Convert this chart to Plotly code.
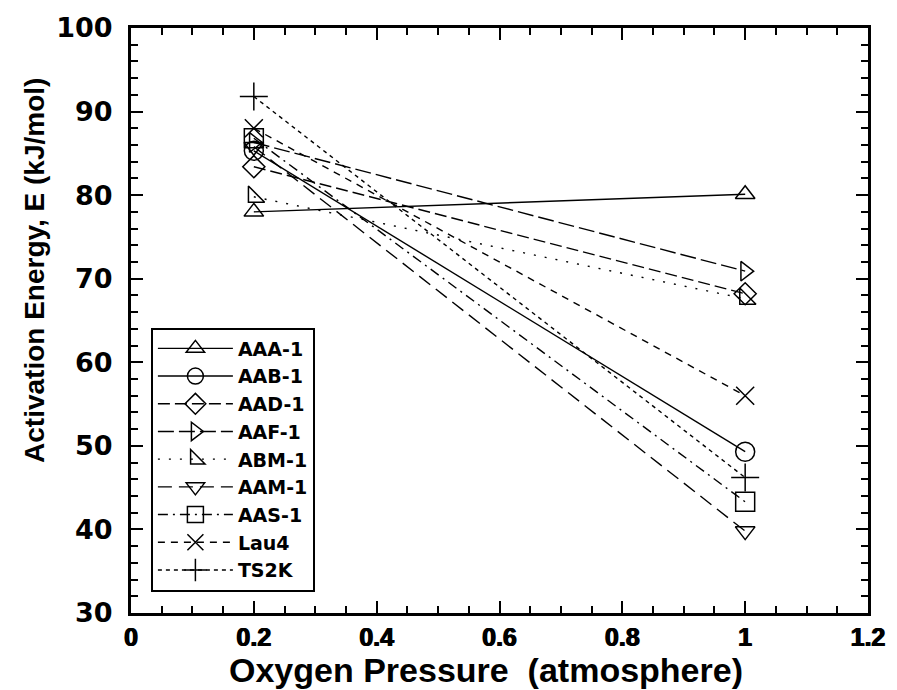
import plotly.graph_objects as go

# Oxygen partial pressure (atm) at which each sample was measured
pressure = [0.2, 1.0]

# Activation energies (kJ/mol) for each sample at 0.2 atm and 1 atm
series_names = ["AAA-1", "AAB-1", "AAD-1", "AAF-1", "ABM-1", "AAM-1", "AAS-1", "Lau4", "TS2K"]
aaa_1 = [78.0, 80.1]
aab_1 = [85.3, 49.3]
aad_1 = [83.4, 68.2]
aaf_1 = [86.3, 70.9]
abm_1 = [79.8, 67.6]
aam_1 = [85.8, 39.8]
aas_1 = [86.8, 43.3]
lau4 = [88.0, 56.0]
ts2k = [91.8, 46.2]

x_ticks = [0, 0.2, 0.4, 0.6, 0.8, 1, 1.2]
x_tick_text = ["0", "0.2", "0.4", "0.6", "0.8", "1", "1.2"]
y_ticks = [30, 40, 50, 60, 70, 80, 90, 100]

values = [aaa_1, aab_1, aad_1, aaf_1, abm_1, aam_1, aas_1, lau4, ts2k]
symbols = ["triangle-up-open", "circle-open", "diamond-open", "triangle-right-open",
           "triangle-sw-open", "triangle-down-open", "square-open", "x-thin-open",
           "cross-thin-open"]
dashes = ["solid", "solid", "12px,5px", "16px,5px", "2px,9px",
          "14px,7px", "10px,5px,2px,5px", "7px,6px", "4px,4px"]
sizes = [17, 19, 17, 17, 18, 17, 19, 18, 20]

fig = go.Figure()
for name, vals, sym, dash, size in zip(series_names, values, symbols, dashes, sizes):
    fig.add_trace(go.Scatter(
        x=pressure, y=vals, name=name, mode="lines+markers",
        line=dict(color="black", width=1.4, dash=dash),
        marker=dict(symbol=sym, size=size, color="black",
                    line=dict(color="black", width=1.5)),
    ))

axis_common = dict(
    showline=True, linecolor="black", linewidth=3, mirror="allticks",
    ticks="inside", ticklen=12, tickwidth=2, tickcolor="black",
    showgrid=False, zeroline=False,
)

fig.update_xaxes(
    range=[0, 1.2], tickvals=x_ticks, ticktext=x_tick_text,
    tickfont=dict(family="Liberation Sans", size=25, color="black", weight="bold",
                  shadow="0.6px 0 0 black, -0.6px 0 0 black"),
    minor=dict(dtick=0.05, ticks="inside", ticklen=7, tickwidth=2, tickcolor="black"),
    ticklabelstandoff=0,
    **axis_common,
)
fig.update_yaxes(
    range=[30, 100], tickvals=y_ticks,
    tickfont=dict(family="DejaVu Sans", size=27, color="black", weight="bold"),
    minor=dict(dtick=2, ticks="inside", ticklen=7, tickwidth=2, tickcolor="black"),
    ticklabelstandoff=10,
    **axis_common,
)

fig.add_annotation(text="Oxygen Pressure&nbsp;&nbsp;(atmosphere)", xref="paper", yref="paper",
                   x=0.482, y=-0.097, xanchor="center", yanchor="middle",
                   showarrow=False,
                   font=dict(family="Liberation Sans", size=34, color="black", weight="bold"))
fig.add_annotation(text="Activation Energy, E (kJ/mol)", xref="paper", yref="paper",
                   x=-0.13, y=0.585, xanchor="center", yanchor="middle",
                   textangle=-90, showarrow=False,
                   font=dict(family="Liberation Sans", size=28, color="black", weight="bold"))

fig.update_layout(
    width=897, height=690,
    margin=dict(l=131, r=21, t=18, b=77),
    plot_bgcolor="white", paper_bgcolor="white",
    showlegend=True,
    legend=dict(
        x=0.027, y=0.488, xanchor="left", yanchor="top",
        bgcolor="white", bordercolor="black", borderwidth=2,
        font=dict(family="DejaVu Sans", size=19, color="black", weight="bold"),
        itemwidth=75, tracegroupgap=0,
    ),
)

fig.write_html("out.html")
